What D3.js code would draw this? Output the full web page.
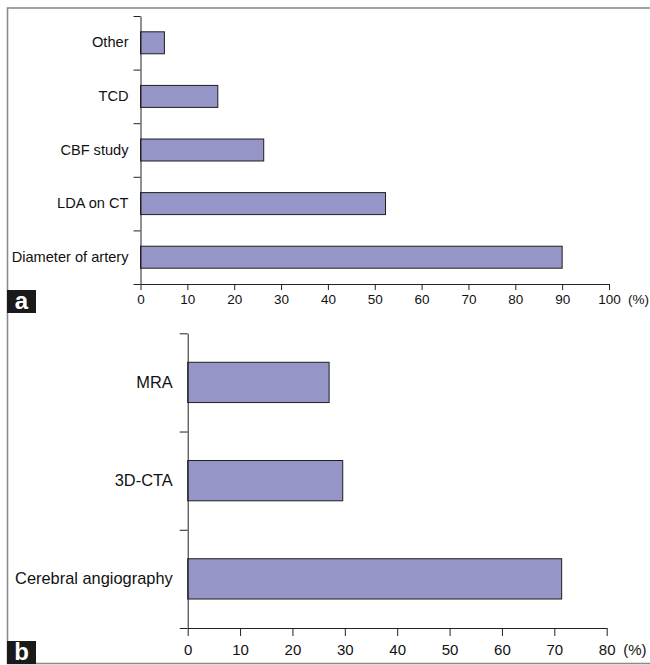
<!DOCTYPE html>
<html>
<head>
<script src="https://d3js.org/d3.v7.min.js"></script>
<style>
  body { margin: 0; background: #fff; }
  svg text { font-family: "Liberation Sans", Arial, sans-serif; fill: #111; }
  .axis path, .axis line { stroke: #222; }
</style>
</head>
<body>
<svg id="chart" width="650" height="665"></svg>
<script>
// panel a: methods for vasospasm evaluation
const catsA = ["Other", "TCD", "CBF study", "LDA on CT", "Diameter of artery"];
const valsA = [5.1, 16.5, 26.3, 52.3, 90.0];
const ticksA = [0, 10, 20, 30, 40, 50, 60, 70, 80, 90, 100];

// panel b: imaging modality
const catsB = ["MRA", "3D-CTA", "Cerebral angiography"];
const valsB = [27.0, 29.6, 71.4];
const ticksB = [0, 10, 20, 30, 40, 50, 60, 70, 80];

const svg = d3.select("#chart");
const barColor = "#9595c7";

// outer frame
svg.append("rect")
  .attr("x", 7.5).attr("y", 8)
  .attr("width", 670).attr("height", 655.5)
  .attr("fill", "none")
  .attr("stroke", "#8c8c8c")
  .attr("stroke-width", 1.6);

function drawPanel(o) {
  const x = d3.scaleLinear().domain(o.xDomain).range([o.x0, o.x1]);
  const y = d3.scaleBand().domain(o.cats).range([o.y0, o.y1]).padding(0);
  const yIdx = d3.scaleLinear().domain([0, o.cats.length]).range([o.y0, o.y1]);
  const g = svg.append("g");

  // bars
  const frac = 0.41;
  g.selectAll("rect.bar").data(o.cats).join("rect")
    .attr("class", "bar")
    .attr("x", x(0))
    .attr("y", d => y(d) + y.bandwidth() * (1 - frac) / 2)
    .attr("width", (d, i) => x(o.vals[i]) - x(0))
    .attr("height", y.bandwidth() * frac)
    .attr("fill", barColor)
    .attr("stroke", "#1e1e1e")
    .attr("stroke-width", 1);

  // y axis line + boundary ticks
  g.append("g").attr("class", "axis")
    .attr("transform", `translate(${x(0)},0)`)
    .call(d3.axisLeft(yIdx).tickValues(d3.range(o.cats.length + 1))
      .tickSize(o.yTick).tickSizeOuter(0).tickFormat(""));

  // category labels
  const labs = g.append("g")
    .attr("transform", `translate(${x(0)},0)`)
    .call(d3.axisLeft(y).tickSize(0).tickPadding(o.labPad));
  labs.select(".domain").remove();
  labs.selectAll("text").style("font-size", o.labSize + "px");

  // x axis
  const xa = g.append("g").attr("class", "axis")
    .attr("transform", `translate(0,${o.y1})`)
    .call(d3.axisBottom(x).tickValues(o.ticks).tickSize(o.xTick)
      .tickSizeOuter(0).tickPadding(o.xPad));
  xa.selectAll("text").style("font-size", o.tickSize + "px");

  g.append("text")
    .attr("x", x(o.xDomain[1]) + o.pctGap)
    .attr("y", o.y1 + o.xTick + o.xPad)
    .attr("dy", "0.71em")
    .style("font-size", o.tickSize + "px")
    .text("(%)");

  // panel letter
  svg.append("rect")
    .attr("x", 7).attr("y", o.tagY)
    .attr("width", 29).attr("height", 23)
    .attr("fill", "#1a1a1a");
  svg.append("text")
    .attr("x", 21.5).attr("y", o.tagY + 19)
    .attr("text-anchor", "middle")
    .style("font-size", "24px").style("font-weight", "bold")
    .style("fill", "#fff")
    .text(o.tag);
}

drawPanel({
  cats: catsA, vals: valsA, ticks: ticksA, xDomain: [0, 100],
  x0: 140.5, x1: 609, y0: 16, y1: 284,
  yTick: 7, xTick: 6, xPad: 4, labPad: 12, labSize: 14.6, tickSize: 13.5,
  pctGap: 19, tag: "a", tagY: 290
});

drawPanel({
  cats: catsB, vals: valsB, ticks: ticksB, xDomain: [0, 80],
  x0: 187.7, x1: 606.7, y0: 333.3, y1: 628,
  yTick: 8, xTick: 8, xPad: 8, labPad: 15, labSize: 16.4, tickSize: 15,
  pctGap: 16.5, tag: "b", tagY: 641
});
</script>
</body>
</html>
